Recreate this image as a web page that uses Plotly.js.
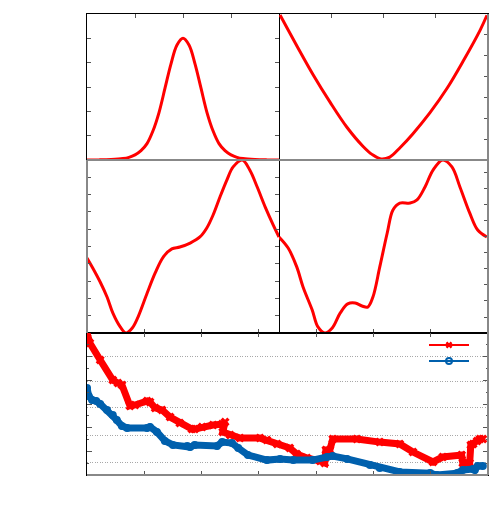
<!DOCTYPE html>
<html>
<head>
<meta charset="utf-8">
<script src="https://cdn.plot.ly/plotly-3.0.1.min.js"></script>
<style>
  html, body { margin: 0; padding: 0; background: #fff; }
  #chart { width: 500px; height: 525px; }
</style>
</head>
<body>
<div id="chart"></div>
<script>

// ===============================
// DATA
// ===============================

// top left: bump
let bumpX = [-2, -1.75, -1.5, -1.25, -1.125, -1, -0.875, -0.75, -0.625, -0.5, -0.375, -0.25, -0.125, 0,
             0.125, 0.25, 0.375, 0.5, 0.625, 0.75, 0.875, 1, 1.125, 1.25, 1.5, 1.75, 2];
let bumpY = [0, 0.001, 0.004, 0.012, 0.022, 0.042, 0.077, 0.135, 0.24, 0.39, 0.59, 0.79, 0.945, 1.0,
             0.945, 0.79, 0.59, 0.39, 0.24, 0.135, 0.077, 0.042, 0.022, 0.012, 0.004, 0.001, 0];

// top right: valley
let valleyX = [-1.98, -1.66, -1.35, -1.02, -0.70, -0.39, -0.22, -0.05, 0.12, 0.32, 0.56, 0.89, 1.22, 1.52, 1.85, 1.98];
let valleyY = [6.95, 5.48, 4.10, 2.76, 1.57, 0.65, 0.27, 0.05, 0.14, 0.60, 1.25, 2.27, 3.45, 4.72, 6.23, 6.94];

// middle left: wave, first half
let waveLeftX = [0, 0.10, 0.23, 0.35, 0.45, 0.58, 0.68, 0.79, 0.89, 1.05, 1.19, 1.33, 1.48, 1.62,
                 1.80, 1.97, 2.09, 2.20, 2.32, 2.44, 2.55, 2.71, 2.84, 2.97, 3.11, 3.25, 3.35];
let waveLeftY = [0.434, 0.376, 0.295, 0.208, 0.116, 0.035, 0.0, 0.029, 0.092, 0.231, 0.347, 0.439, 0.486, 0.497,
                 0.520, 0.555, 0.607, 0.682, 0.786, 0.884, 0.960, 1.0, 0.942, 0.844, 0.728, 0.624, 0.555];

// middle right: wave, second half
let waveRightX = [3.35, 3.51, 3.66, 3.77, 3.93, 4.03, 4.15, 4.28, 4.42, 4.55, 4.68, 4.80, 4.90, 4.99,
                  5.11, 5.24, 5.34, 5.46, 5.64, 5.76, 5.90, 6.04, 6.21, 6.37, 6.51, 6.68, 6.82, 6.98];
let waveRightY = [0.555, 0.491, 0.382, 0.266, 0.133, 0.035, 0.0, 0.029, 0.116, 0.168, 0.173, 0.156, 0.150, 0.208,
                  0.382, 0.578, 0.711, 0.751, 0.751, 0.769, 0.844, 0.942, 1.0, 0.960, 0.844, 0.694, 0.595, 0.555];

// bottom: two series
let redX = [0, 0.05, 0.23, 0.45, 0.54, 0.61, 0.75, 0.84, 1.05, 1.10, 1.19, 1.31, 1.45, 1.62, 1.83, 1.88,
            2.01, 2.20, 2.36, 2.41, 2.37, 2.50, 2.67, 3.02, 3.14, 3.32, 3.54, 3.66, 3.84, 4.07, 4.15,
            4.17, 4.24, 4.29, 4.71, 5.11, 5.46, 5.69, 6.04, 6.21, 6.54, 6.56, 6.68, 6.70, 6.74, 6.81, 6.86, 6.91];
let redY = [6.0, 5.58, 4.86, 4.01, 3.89, 3.80, 2.92, 2.96, 3.13, 3.08, 2.83, 2.75, 2.45, 2.20, 1.94, 1.94,
            2.03, 2.11, 2.15, 2.24, 1.82, 1.69, 1.56, 1.56, 1.48, 1.31, 1.14, 0.89, 0.72, 0.59, 0.51,
            1.06, 1.06, 1.52, 1.52, 1.39, 1.31, 0.97, 0.55, 0.76, 0.84, 0.51, 0.51, 1.27, 1.31, 1.44, 1.52, 1.52];

let blueX = [0, 0.03, 0.09, 0.16, 0.23, 0.35, 0.45, 0.52, 0.61, 0.70, 1.05, 1.10, 1.22, 1.36, 1.50,
             1.75, 1.80, 1.88, 2.27, 2.36, 2.53, 2.64, 2.81, 3.14, 3.37, 3.60, 3.94, 4.19, 4.29,
             4.54, 4.94, 5.11, 5.46, 5.99, 6.11, 6.46, 6.56, 6.74, 6.77, 6.82, 6.91];
let blueY = [3.68, 3.34, 3.17, 3.13, 3.0, 2.75, 2.53, 2.32, 2.07, 1.99, 1.99, 2.03, 1.82, 1.44, 1.27,
             1.23, 1.18, 1.27, 1.23, 1.39, 1.35, 1.14, 0.84, 0.63, 0.68, 0.63, 0.63, 0.76, 0.80,
             0.68, 0.42, 0.30, 0.13, 0.08, 0.0, 0.08, 0.21, 0.25, 0.21, 0.38, 0.38];

// dotted guide levels in the bottom panel
let guideLevels = [0.51, 1.69, 2.87, 3.97, 4.99];


// ===============================
// STYLE
// ===============================

const RED = '#ff0000';
const BLUE = '#0060ad';
const GREY = '#888888';

function axis(extra) {
    return Object.assign({
        showline: true,
        linecolor: '#000',
        linewidth: 1,
        mirror: true,
        ticks: 'inside',
        ticklen: 4,
        tickwidth: 1,
        tickcolor: '#555',
        showticklabels: false,
        showgrid: false,
        zeroline: false,
        fixedrange: true
    }, extra);
}

function curve(x, y, xa, ya) {
    return {
        x: x, y: y, xaxis: xa, yaxis: ya,
        type: 'scatter', mode: 'lines',
        line: { color: RED, width: 3, shape: 'spline', smoothing: 1.0 },
        showlegend: false, hoverinfo: 'skip'
    };
}

function edge(xa, ya, x0, x1, y0, y1) {
    return {
        type: 'line', layer: 'above',
        xref: xa + ' domain', yref: ya + ' domain',
        x0: x0, x1: x1, y0: y0, y1: y1,
        line: { color: GREY, width: 2 }
    };
}

let traces = [

    curve(bumpX, bumpY, 'x', 'y'),
    curve(valleyX, valleyY, 'x2', 'y2'),
    curve(waveLeftX, waveLeftY, 'x3', 'y3'),
    curve(waveRightX, waveRightY, 'x4', 'y4'),

    {
        x: redX, y: redY, xaxis: 'x5', yaxis: 'y5',
        type: 'scatter', mode: 'lines+markers',
        line: { color: RED, width: 7 },
        marker: { color: RED, symbol: 'x', size: 8 },
        showlegend: false, hoverinfo: 'skip'
    },

    {
        x: blueX, y: blueY, xaxis: 'x5', yaxis: 'y5',
        type: 'scatter', mode: 'lines+markers',
        line: { color: BLUE, width: 7 },
        marker: { color: BLUE, symbol: 'circle', size: 8 },
        showlegend: false, hoverinfo: 'skip'
    },

    // legend keys only
    {
        x: [null], y: [null], xaxis: 'x5', yaxis: 'y6',
        type: 'scatter', mode: 'lines+markers', name: ' ',
        line: { color: RED, width: 2 },
        marker: { color: RED, symbol: 'x', size: 6 },
        legend: 'legend'
    },

    {
        x: [null], y: [null], xaxis: 'x5', yaxis: 'y6',
        type: 'scatter', mode: 'lines+markers', name: ' ',
        line: { color: BLUE, width: 2 },
        marker: { color: BLUE, symbol: 'circle-open', size: 6, line: { width: 2, color: BLUE } },
        legend: 'legend2'
    }
];

// panel edges in pixels of the 500x525 figure
const W = 500, H = 525;
const colL = [87 / W, 279 / W], colR = [279 / W, 488 / W], colAll = [87 / W, 488 / W];
const rowTop = [1 - 160 / H, 1 - 14 / H];
const rowMid = [1 - 333 / H, 1 - 160 / H];
const rowBot = [1 - 475 / H, 1 - 333 / H];

let legendBase = {
    bgcolor: 'rgba(0,0,0,0)',
    borderwidth: 0,
    itemwidth: 40,
    xanchor: 'left',
    yanchor: 'middle',
    font: { size: 10 }
};

let layout = {
    width: W,
    height: H,
    margin: { l: 0, r: 0, t: 0, b: 0 },
    paper_bgcolor: '#fff',
    plot_bgcolor: 'rgba(0,0,0,0)',
    font: { family: 'DejaVu Sans', size: 10, color: '#000' },

    xaxis: axis({ domain: colL, anchor: 'y', range: [-2, 2], dtick: 1, side: 'top' }),
    yaxis: axis({ domain: rowTop, anchor: 'x', range: [0, 1.2], dtick: 0.2, mirror: 'ticks' }),

    xaxis2: axis({ domain: colR, anchor: 'y2', range: [-2, 2], dtick: 1, side: 'top' }),
    yaxis2: axis({ domain: rowTop, anchor: 'x2', range: [0, 7], dtick: 1, side: 'right', mirror: false }),

    xaxis3: axis({ domain: colL, anchor: 'y3', range: [0, 3.35], dtick: 1 }),
    yaxis3: axis({ domain: rowMid, anchor: 'x3', range: [0, 1], dtick: 0.1, mirror: 'ticks' }),

    xaxis4: axis({ domain: colR, anchor: 'y4', range: [3.35, 7], dtick: 1 }),
    yaxis4: axis({ domain: rowMid, anchor: 'x4', range: [0, 1], tick0: 0, dtick: 0.0925, side: 'right', mirror: false }),

    xaxis5: axis({ domain: colAll, anchor: 'y5', range: [0, 7], dtick: 1, mirror: 'ticks' }),
    yaxis5: axis({ domain: rowBot, anchor: 'x5', range: [0, 6], dtick: 1, ticklen: 5, mirror: 'ticks',
                   minor: { ticks: 'inside', ticklen: 2, dtick: 0.5, tickcolor: '#555' } }),
    yaxis6: axis({ overlaying: 'y5', anchor: 'x5', range: [0, 6], showline: false, ticks: '',
                   tickmode: 'array', tickvals: guideLevels,
                   showgrid: true, gridcolor: '#a8a8a8', gridwidth: 1, griddash: '1px,1.5px' }),

    legend: Object.assign({}, legendBase, { x: 424 / W, y: 1 - 345 / H }),
    legend2: Object.assign({}, legendBase, { x: 424 / W, y: 1 - 361 / H }),

    shapes: [
        edge('x', 'y', 0, 1, 0, 0),
        edge('x2', 'y2', 0, 1, 0, 0),
        edge('x2', 'y2', 1, 1, 0, 1),
        edge('x3', 'y3', 0, 0, 0, 1),
        edge('x3', 'y3', 0, 1, 1, 1),
        edge('x4', 'y4', 0, 1, 1, 1),
        edge('x4', 'y4', 1, 1, 0, 1),
        edge('x5', 'y5', 0, 1, 0, 0),
        edge('x5', 'y5', 1, 1, 0, 1)
    ]
};

Plotly.newPlot('chart', traces, layout, { displayModeBar: false, staticPlot: true });

</script>
</body>
</html>
